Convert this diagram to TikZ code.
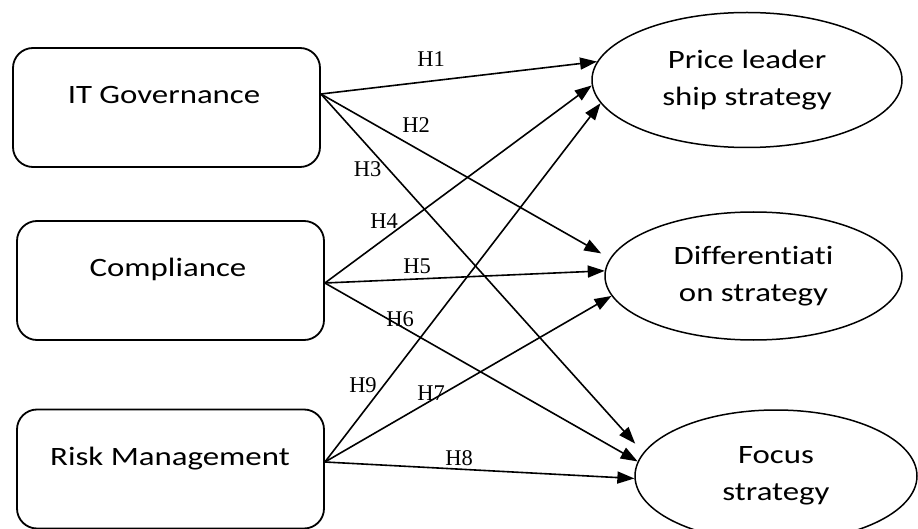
\documentclass[tikz,border=0pt]{standalone}
\usepackage{fontspec}
\newfontfamily\boxfont[FakeStretch=1.24,Ligatures=NoCommon]{Carlito}
\newfontfamily\hypfont{Liberation Serif}
\usetikzlibrary{shapes.geometric,arrows.meta}
\begin{document}
\begin{tikzpicture}[x=1pt,y=-1pt,
  srcbox/.style={draw, line width=1.8pt, rounded corners=20pt, minimum width=307pt, minimum height=119pt, inner sep=0pt},
  boxtext/.style={font=\boxfont\fontsize{26.5}{37}\selectfont, anchor=base, inner sep=0pt},
  target/.style={draw, line width=1.5pt, ellipse, inner sep=0pt, align=center, font=\boxfont\fontsize{26.5}{37}\selectfont},
  hyp/.style={font=\hypfont\fontsize{22.5}{25}\selectfont, anchor=base, inner sep=0pt},
  link/.style={line width=1.6pt, -{Triangle[length=17pt,width=12pt]}}
]
\useasboundingbox (0,0) rectangle (918,529);
\node[srcbox] (itg) at (166.5,107.5) {};
\node[srcbox] (cmp) at (170.5,280.5) {};
\node[srcbox] (rsk) at (170.5,469) {};
\node[boxtext] (itgt) at (164,104) {IT Governance};
\node[boxtext] (cmpt) at (168,277) {Compliance};
\node[boxtext] (rskt) at (170,465) {Risk Management};
\node[target, minimum width=310pt, minimum height=135pt] (pl) at (747,80) {Price leader\\ship strategy};
\node[target, minimum width=297pt, minimum height=128pt] (df) at (753.5,276) {Differentiati\\on strategy};
\node[target, minimum width=282pt, minimum height=132pt] (fc) at (776,476) {Focus\\strategy};
\coordinate (itgo) at ([yshift=13.5pt]itg.east);
\coordinate (cmpo) at ([yshift=-2.5pt]cmp.east);
\coordinate (rsko) at ([yshift=7pt]rsk.east);
\draw[link] (itgo) -- (pl.173);
\draw[link, shorten >=10pt] (itgo) -- (df.173);
\draw[link, shorten >=12pt] (itgo) -- (fc.170.5);
\draw[link] (cmpo) -- (pl.182);
\draw[link] (cmpo) -- (df.178.5);
\draw[link] (cmpo) -- (fc.174);
\draw[link] (rsko) -- (pl.189);
\draw[link] (rsko) -- (df.188.5);
\draw[link] (rsko) -- (fc.181);
\node[hyp] (h1) at (431,66.7) {H1};
\node[hyp] (h2) at (416,133) {H2};
\node[hyp] (h3) at (367.5,176.7) {H3};
\node[hyp] (h4) at (384,229) {H4};
\node[hyp] (h5) at (417,273) {H5};
\node[hyp] (h6) at (400,326.7) {H6};
\node[hyp] (h7) at (431,400) {H7};
\node[hyp] (h8) at (459,465) {H8};
\node[hyp] (h9) at (363,392.7) {H9};
\end{tikzpicture}
\end{document}
